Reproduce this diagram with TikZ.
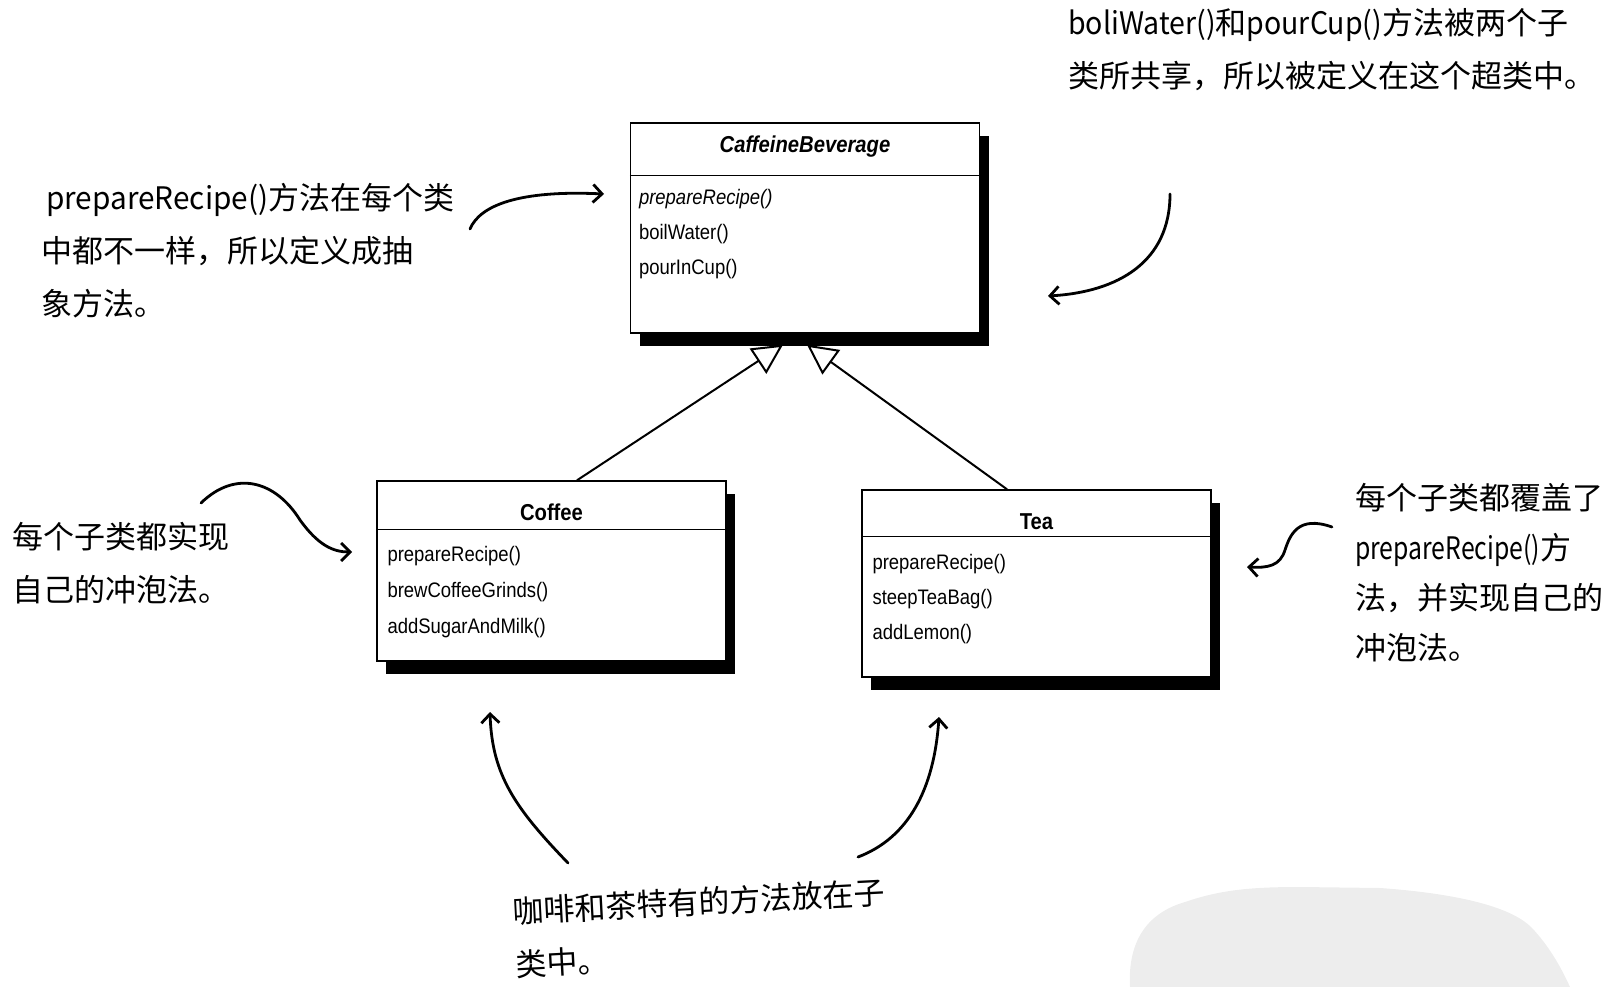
\documentclass[tikz,border=0pt]{standalone}
\usepackage{fontspec}
\setmainfont{Liberation Sans}
\newfontfamily\umlfont{Liberation Sans}[FakeStretch=0.88]
\newfontfamily\cjk{Noto Sans CJK SC}
\usepackage{xcolor}
\usepackage{tikz}
\usetikzlibrary{arrows.meta,positioning,shadows,backgrounds,calc}
\definecolor{wmgray}{HTML}{EDEDED}
\newcommand{\narrowed}[2]{\scalebox{#1}[1]{#2}}

\begin{document}
\begin{tikzpicture}[
        x=1pt, y=-1pt,
        classbox/.style={
            draw, line width=1.4pt, fill=white,
            minimum width=349pt, inner sep=0pt,
            drop shadow={shadow xshift=9pt, shadow yshift=-13pt, fill=black, opacity=1}
        },
        classname/.style={font=\umlfont\fontsize{23}{25}\selectfont\bfseries, inner sep=0pt},
        method/.style={font=\umlfont\fontsize{21}{23}\selectfont, anchor=west, inner sep=0pt},
        sepline/.style={line width=1.2pt},
        inherit/.style={-{Triangle[open, length=30pt, width=30pt]}, line width=2pt},
        note/.style={font=\cjk\fontsize{31}{53}\selectfont, align=left, anchor=north west, inner sep=0pt},
        hand/.style={-{Straight Barb[length=9pt, width=18pt]}, line width=2.8pt, line cap=round}
    ]
    \useasboundingbox (0,0) rectangle (1619,987);

    % watermark
    \fill[wmgray] (1130,987) .. controls (1128,950) and (1140,915) .. (1185,902)
        .. controls (1220,890) and (1250,887) .. (1300,887) -- (1380,888)
        .. controls (1450,893) and (1510,905) .. (1532,928)
        .. controls (1548,945) and (1560,965) .. (1570,987) -- cycle;

    % Superclass
    \node[classbox, minimum height=210pt] (cb) at (805,228) {};
    \node[classname] (cbname) at ([yshift=-24pt]cb.north) {\itshape CaffeineBeverage};
    \draw[sepline] ([yshift=-53pt]cb.north west) -- ([yshift=-53pt]cb.north east);
    \node[method] (cbprep) at ([xshift=9pt, yshift=-77pt]cb.north west) {\itshape prepareRecipe()};
    \node[method] (cbboil) at ([yshift=-35pt]cbprep.west) {boilWater()};
    \node[method] (cbpour) at ([yshift=-35pt]cbboil.west) {pourInCup()};

    % Subclasses
    \node[classbox, minimum height=180pt] (coffee) at (551.5,571) {};
    \node[classname] (coffeename) at ([yshift=-32pt]coffee.north) {Coffee};
    \draw[sepline] ([yshift=-49pt]coffee.north west) -- ([yshift=-49pt]coffee.north east);
    \node[method] (coffeeprep) at ([xshift=11pt, yshift=-76pt]coffee.north west) {prepareRecipe()};
    \node[method] (coffeebrew) at ([yshift=-36pt]coffeeprep.west) {brewCoffeeGrinds()};
    \node[method] (coffeesugar) at ([yshift=-36pt]coffeebrew.west) {addSugarAndMilk()};

    \node[classbox, minimum height=187pt] (tea) at (1036.5,583.5) {};
    \node[classname] (teaname) at ([yshift=-32pt]tea.north) {Tea};
    \draw[sepline] ([yshift=-47pt]tea.north west) -- ([yshift=-47pt]tea.north east);
    \node[method] (teaprep) at ([xshift=11pt, yshift=-75pt]tea.north west) {prepareRecipe()};
    \node[method] (teasteep) at ([yshift=-35pt]teaprep.west) {steepTeaBag()};
    \node[method] (tealemon) at ([yshift=-35pt]teasteep.west) {addLemon()};

    % Inheritance
    \begin{scope}[on background layer]
    \draw[inherit] ([xshift=25.5pt]coffee.north) -- ([xshift=-22pt, yshift=-11pt]cb.south);
    \draw[inherit] ([xshift=-29.5pt]tea.north) -- ([xshift=2pt, yshift=-11pt]cb.south);
    \end{scope}

    % Notes
    \node[note] (sharednote) at (1068,8) {\narrowed{0.92}{boliWater()}和\narrowed{0.92}{pourCup()}方法被两个子\\类所共享，所以被定义在这个超类中。};
    \node[note] (abstractnote) at (41,183) {\hspace{5pt}\narrowed{0.96}{prepareRecipe()}方法在每个类\\中都不一样，所以定义成抽\\象方法。};
    \node[note] (implnote) at (12,522) {每个子类都实现\\自己的冲泡法。};
    \node[note, font=\cjk\fontsize{31}{50}\selectfont] (overnote) at (1355,483) {每个子类都覆盖了\\\narrowed{0.8}{prepareRecipe()}方\\法，并实现自己的\\冲泡法。};
    \node[note, rotate=3] (ownnote) at (512,897) {咖啡和茶特有的方法放在子\\类中。};

    % Hand arrows
    \coordinate (sharedtail) at (1170,194);
    \coordinate (sharedtip) at (1048,296);
    \coordinate (abstracttail) at (470,229);
    \coordinate (abstracttip) at (604,194);
    \coordinate (impltail) at (201,503);
    \coordinate (impltip) at (352,552);
    \coordinate (overtail) at (1332,527);
    \coordinate (overtip) at (1247,567);
    \coordinate (owntailA) at (568,863);
    \coordinate (owntipA) at (490,712);
    \coordinate (owntailB) at (858,857);
    \coordinate (owntipB) at (939,717);

    \draw[hand] (sharedtail) .. controls (1170,262) and (1118,292) .. (sharedtip);
    \draw[hand] (abstracttail) .. controls (480,205) and (520,190) .. (abstracttip);
    \draw[hand] (impltail) .. controls (235,470) and (275,480) .. (300,520)
        .. controls (318,545) and (333,552) .. (impltip);
    \draw[hand] (overtail) .. controls (1298,515) and (1290,535) .. (1285,550)
        .. controls (1280,566) and (1268,568) .. (overtip);
    \draw[hand] (owntailA) .. controls (515,808) and (492,775) .. (owntipA);
    \draw[hand] (owntailB) .. controls (908,838) and (934,790) .. (owntipB);

\end{tikzpicture}
\end{document}
